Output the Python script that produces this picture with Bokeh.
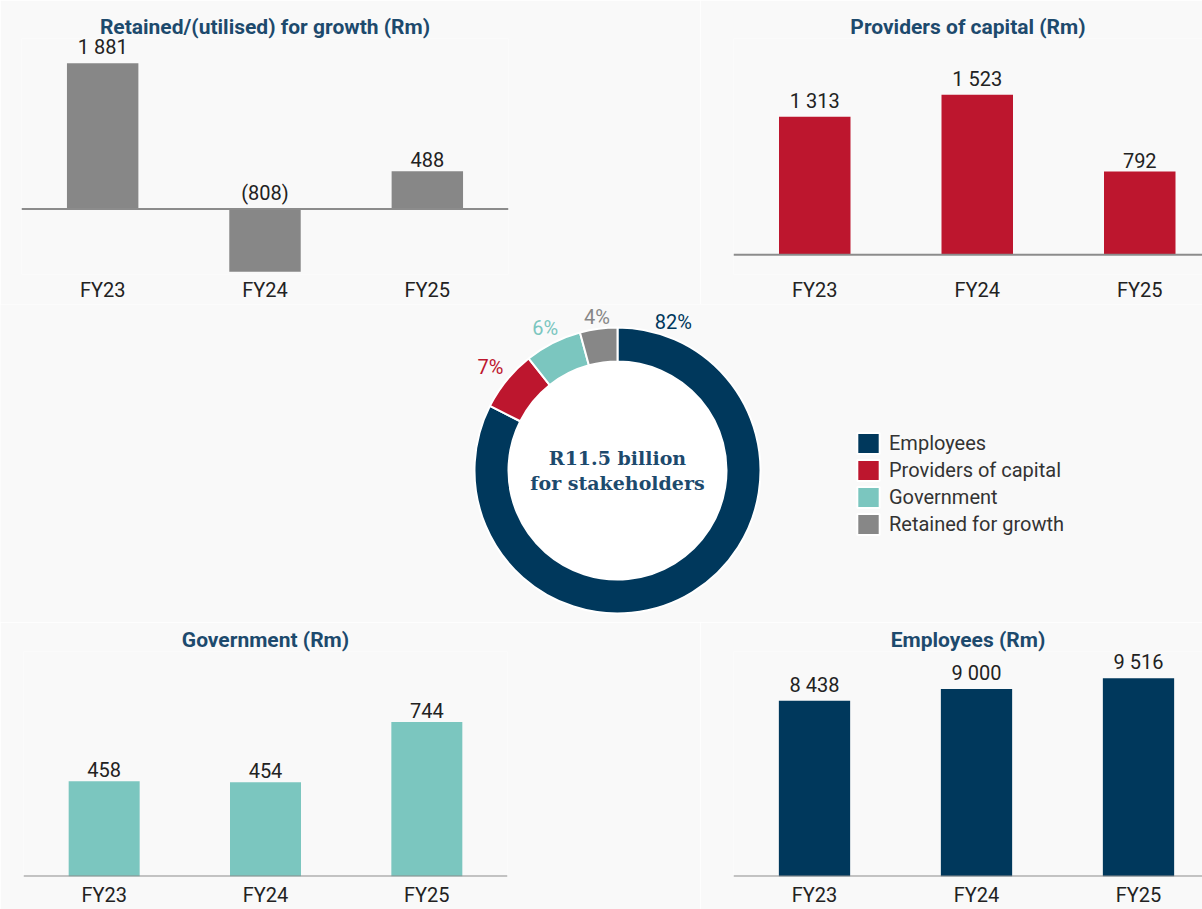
import math
from bokeh.plotting import figure
from bokeh.models import ColumnDataSource, Span, Range1d, FixedTicker, Legend, LegendItem
from bokeh.layouts import column, row
from bokeh.embed import file_html
from bokeh.resources import INLINE
from bokeh.core.properties import value

# ---------------- data ----------------
categories = ["FY23", "FY24", "FY25"]
retained = [1881, -808, 488]
providers = [1313, 1523, 792]
government = [458, 454, 744]
employees = [8438, 9000, 9516]

segment_names = ["Employees", "Providers of capital", "Government", "Retained for growth"]
segment_values = [employees[2], providers[2], government[2], retained[2]]
center_text = "R11.5 billion\nfor stakeholders"

# ---------------- style ----------------
NAVY = "#00385c"
RED = "#bd162e"
TEAL = "#7bc6bf"
GREY = "#878787"
TITLE_C = "#1d4a6d"
TXT = "#222222"
BG = "#f9f9f9"
FONT = "Roboto"
segment_colors = [NAVY, RED, TEAL, GREY]


def fmt(v):
    s = f"{abs(v):,}".replace(",", " ")
    return f"({s})" if v < 0 else s


def bar_chart(title, vals, color, width, height, x_end, y_start, y_end,
              left, right, top, bottom, standoff):
    p = figure(width=width, height=height, output_backend="svg", toolbar_location=None,
               x_range=Range1d(-0.5, x_end), y_range=Range1d(y_start, y_end),
               min_border_left=left, min_border_right=right,
               min_border_top=top, min_border_bottom=bottom,
               y_axis_location=None, title=title)
    p.background_fill_color = BG
    p.border_fill_color = BG
    p.outline_line_color = None
    p.grid.visible = False
    p.title.align = "center"
    p.title.text_font = FONT
    p.title.text_font_style = "bold"
    p.title.text_font_size = "21px"
    p.title.text_color = TITLE_C
    p.title.standoff = 0

    idx = list(range(len(categories)))
    src = ColumnDataSource(dict(
        x=idx, top=vals,
        ly=[max(v, 0) for v in vals],
        lab=[fmt(v) for v in vals]))
    p.vbar(x="x", top="top", bottom=0, width=0.44, source=src,
           fill_color=color, line_color=None)
    p.add_layout(Span(location=0, dimension="width", line_color="#8c8c8c", line_width=2))
    p.text(x="x", y="ly", text="lab", source=src, text_align="center",
           text_baseline="bottom", y_offset=-4, text_font=value(FONT),
           text_font_size="20px", text_color=TXT)

    ax = p.xaxis[0]
    ax.ticker = FixedTicker(ticks=idx)
    ax.major_label_overrides = {i: c for i, c in enumerate(categories)}
    ax.axis_line_color = None
    ax.major_tick_line_color = None
    ax.minor_tick_line_color = None
    ax.major_tick_out = 0
    ax.major_tick_in = 0
    ax.minor_tick_out = 0
    ax.minor_tick_in = 0
    ax.major_label_text_font = FONT
    ax.major_label_text_font_size = "20px"
    ax.major_label_text_color = TXT
    ax.major_label_standoff = standoff
    return p


# ---- top row: height 304, frames 38..276 (shared) ----
FT, FB = 38, 276
s_a = 147 / 1881
pa = bar_chart("Retained/(utilised) for growth (Rm)", retained, GREY, 700, 304, 2.5,
               -(FB - 210) / s_a, (210 - FT) / s_a, 21, 192, FT, 304 - FB, 3)
s_b = 0.1059
pb = bar_chart("Providers of capital (Rm)", providers, RED, 502, 304, -0.5 + 469 / 162.5,
               -(FB - 256) / s_b, (256 - FT) / s_b, 33, 0, FT, 304 - FB, 3)

# ---- bottom row: height 287 (622..909), frames 651..879 ----
RT, BT, BB = 622, 651, 879
s_c = 0.2105
pc = bar_chart("Government (Rm)", government, TEAL, 700, 287, 2.5,
               0, (BB - BT) / s_c, 23, 193, BT - RT, RT + 287 - BB, 6)
s_e = 0.02112
pe = bar_chart("Employees (Rm)", employees, NAVY, 502, 287, -0.5 + 469 / 162.0,
               0, (BB - BT) / s_e, 33, 0, BT - RT, RT + 287 - BB, 6)

# ---------------- donut (304..622) ----------------
d = figure(width=1202, height=318, output_backend="svg", toolbar_location=None,
           x_range=Range1d(-617, 585), y_range=Range1d(-152, 166),
           min_border=0, x_axis_location=None, y_axis_location=None)
d.background_fill_color = BG
d.border_fill_color = BG
d.outline_line_color = None
d.grid.visible = False

OUTER, INNER = 143, 109
total = sum(segment_values)
starts, ends, lx, ly, labs = [], [], [], [], []
cum = 0.0
for v in segment_values:
    a0 = math.pi / 2 - 2 * math.pi * cum / total
    cum += v
    a1 = math.pi / 2 - 2 * math.pi * cum / total
    starts.append(a0)
    ends.append(a1)
    frac = v / total
    la = a0 - 0.36 if frac > 0.5 else (a0 + a1) / 2
    r = OUTER + 4 + 17 * abs(math.cos(la)) + 6 * abs(math.sin(la))
    lx.append(r * math.cos(la))
    ly.append(r * math.sin(la))
    labs.append(f"{round(frac * 100)}%")

dsrc = ColumnDataSource(dict(start=starts, end=ends, color=segment_colors,
                             lx=lx, ly=ly, lab=labs, name=segment_names))
d.circle(x=[0], y=[0], radius=INNER + 1, fill_color="white", line_color=None)
wr = d.annular_wedge(x=0, y=0, inner_radius=INNER, outer_radius=OUTER,
                     start_angle="start", end_angle="end", direction="clock",
                     fill_color="color", line_color="white", line_width=2, source=dsrc)
d.text(x="lx", y="ly", text="lab", text_color="color", source=dsrc,
       text_align="center", text_baseline="middle", text_font=value(FONT),
       text_font_size="20px")
d.text(x=[0], y=[0], text=[center_text], text_align="center", text_baseline="middle",
       text_font=value("DejaVu Serif"), text_font_style="bold", text_font_size="19px",
       text_color=TITLE_C, text_line_height=1.15)

legend = Legend(items=[LegendItem(label=n, renderers=[wr], index=i)
                       for i, n in enumerate(segment_names)],
                location=(854, 85), glyph_width=28, glyph_height=26, label_height=22,
                spacing=1, padding=0, margin=0, border_line_color=None,
                background_fill_alpha=0, label_standoff=7,
                label_text_font=FONT, label_text_font_size="20px",
                label_text_color="#333333")
d.add_layout(legend)

layout = column(row(pa, pb), d, row(pc, pe))
open("out.html", "w").write(file_html(layout, INLINE))
